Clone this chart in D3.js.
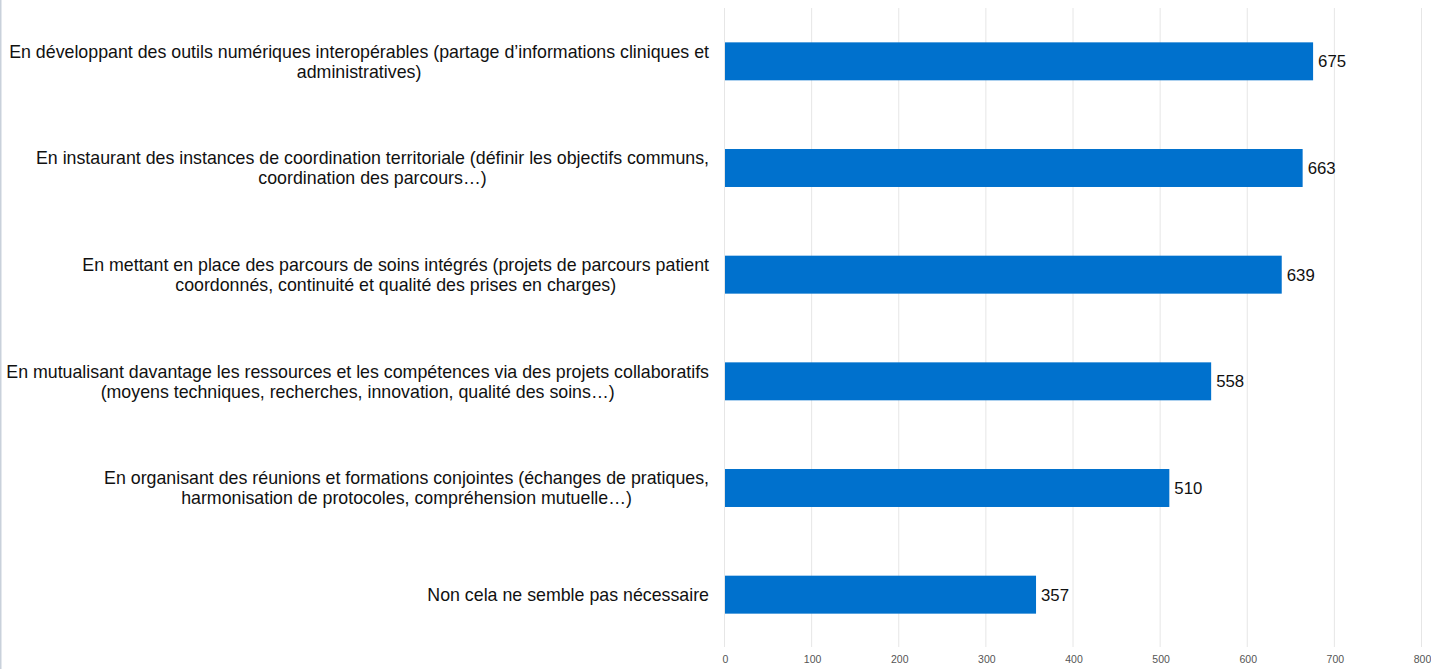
<!DOCTYPE html>
<html>
<head>
<meta charset="utf-8">
<script src="https://cdn.jsdelivr.net/npm/d3@7"></script>
<style>
  html, body { margin: 0; padding: 0; background: #fff; }
  svg { display: block; }
</style>
</head>
<body>
<svg id="chart" width="1431" height="669"></svg>
<script>
// Response options (each entry split into display lines)
const categories = [
  ["En développant des outils numériques interopérables (partage d’informations cliniques et", "administratives)"],
  ["En instaurant des instances de coordination territoriale (définir les objectifs communs,", "coordination des parcours…)"],
  ["En mettant en place des parcours de soins intégrés (projets de parcours patient", "coordonnés, continuité et qualité des prises en charges)"],
  ["En mutualisant davantage les ressources et les compétences via des projets collaboratifs", "(moyens techniques, recherches, innovation, qualité des soins…)"],
  ["En organisant des réunions et formations conjointes (échanges de pratiques,", "harmonisation de protocoles, compréhension mutuelle…)"],
  ["Non cela ne semble pas nécessaire"]
];
const values = [675, 663, 639, 558, 510, 357];
const tickValues = [0, 100, 200, 300, 400, 500, 600, 700, 800];

const svg = d3.select("#chart");
const W = 1431, H = 669;
const plot = { left: 725, right: 1422, top: 8, bottom: 647 };
const FONT = "Liberation Sans, Arial, sans-serif";

// left page border
svg.append("rect").attr("x", 0).attr("y", 0).attr("width", 1.5).attr("height", H)
  .attr("fill", "#c9d1db");

const x = d3.scaleLinear().domain([0, 800]).range([plot.left, plot.right]);
const y = d3.scaleBand().domain(d3.range(categories.length))
  .range([plot.top, plot.bottom + 1]).paddingInner(0.644).paddingOuter(0.322);

// vertical gridlines
svg.append("g").selectAll("line").data(tickValues).join("line")
  .attr("x1", d => x(d) - 0.5).attr("x2", d => x(d) - 0.5)
  .attr("y1", plot.top).attr("y2", plot.bottom)
  .attr("stroke", "#e6e6e6").attr("stroke-width", 1);

// bottom axis labels
const axis = d3.axisBottom(x).tickValues(tickValues).tickSize(0).tickPadding(0);
const ag = svg.append("g").attr("transform", `translate(0,${plot.bottom + 9})`).call(axis);
ag.select(".domain").remove();
ag.selectAll("text").attr("font-family", FONT)
  .attr("font-size", 10.5).attr("fill", "#555");

// bars
svg.append("g").selectAll("rect").data(values).join("rect")
  .attr("x", x(0))
  .attr("y", (d, i) => y(i))
  .attr("width", d => x(d) - x(0))
  .attr("height", y.bandwidth())
  .attr("fill", "#0071cd");

// value labels
svg.append("g").selectAll("text").data(values).join("text")
  .attr("x", d => x(d) + 5)
  .attr("y", (d, i) => y(i) + y.bandwidth() / 2)
  .attr("dy", "0.35em")
  .attr("font-family", FONT)
  .attr("font-size", 16.8)
  .attr("fill", "#111")
  .text(d => d);

// category labels: block right-aligned at labelRight, lines centred in block
const labelRight = 709;
const lineH = 20;
const lg = svg.append("g").attr("font-family", FONT)
  .attr("font-size", 17.8).attr("fill", "#111");
categories.forEach((lines, i) => {
  const cy = y(i) + y.bandwidth() / 2;
  const g = lg.append("g");
  const texts = lines.map((ln, j) => g.append("text")
    .attr("y", cy + (j - (lines.length - 1) / 2) * lineH)
    .attr("dy", "0.35em")
    .attr("text-anchor", "middle")
    .text(ln));
  const maxW = d3.max(texts, t => t.node().getComputedTextLength());
  texts.forEach(t => t.attr("x", labelRight - maxW / 2));
});
</script>
</body>
</html>
